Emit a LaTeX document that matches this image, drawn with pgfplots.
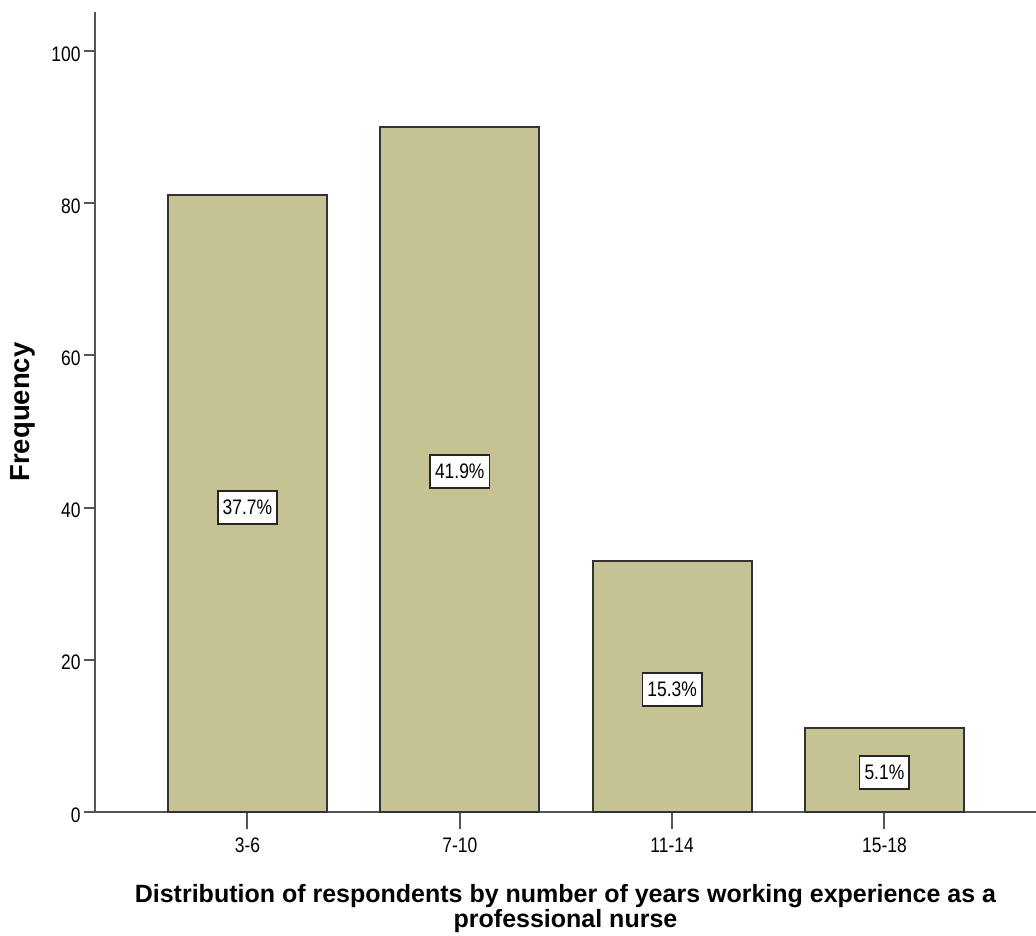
\documentclass[border=0pt]{standalone}
\usepackage{pgfplots}
\pgfplotsset{compat=1.18}
\usepackage{fontspec}
\setmainfont{Liberation Sans}
\newfontfamily\narrowfont[FakeStretch=0.83]{Liberation Sans}
\definecolor{barfill}{RGB}{197,195,148}
\definecolor{axgray}{RGB}{85,85,85}
\begin{document}
\begin{tikzpicture}[x=1pt,y=1pt]
\useasboundingbox (-95,-124) rectangle (941,812);
\begin{axis}[
  scale only axis,
  width=941pt, height=800pt,
  xmin=-0.718, xmax=3.714,
  ymin=0, ymax=105.1,
  axis x line*=bottom, axis y line*=left,
  axis line style={axgray, line width=1.6pt},
  xtick={0,1,2,3},
  xticklabels={3-6,7-10,11-14,15-18},
  ytick={0,20,40,60,80,100},
  tick align=outside,
  major tick length=11pt,
  xtick style={axgray, line width=2pt, /pgfplots/major tick length=17pt},
  ytick style={axgray, line width=2pt},
  tick label style={font=\narrowfont\fontsize{21}{24}\selectfont},
  /pgf/number format/assume math mode=true,
  yticklabel style={xshift=0pt, yshift=-3pt},
  xticklabel style={yshift=-11pt, text height=15pt, text depth=0pt},
  xlabel={Distribution of respondents by number of years working experience as a\\professional nurse},
  ylabel={Frequency},
  xlabel style={font=\bfseries\fontsize{25}{25}\selectfont, align=center, at={(axis description cs:0.5,0)}, anchor=center, yshift=-97pt},
  ylabel style={font=\bfseries\fontsize{27.5}{28}\selectfont, at={(axis description cs:0,0.5)}, anchor=center, yshift=72pt},
  clip=false,
]
\addplot[ybar, bar width=159pt, bar shift=0pt, fill=barfill, draw=black!80, line width=2pt]
  coordinates {(0,81) (1,90) (2,33) (3,11)};
\addplot[only marks, mark=none, point meta=explicit symbolic,
  nodes near coords,
  every node near coord/.append style={anchor=center, fill=white, draw=black!85, line width=1.6pt,
     inner xsep=5pt, inner ysep=0pt, minimum height=33pt, font=\narrowfont\fontsize{21}{24}\selectfont}]
  coordinates {(0,40)[37.7\%] (1,44.7)[41.9\%] (2,16.1)[15.3\%] (3,5.2)[5.1\%]};
\end{axis}
\end{tikzpicture}
\end{document}
